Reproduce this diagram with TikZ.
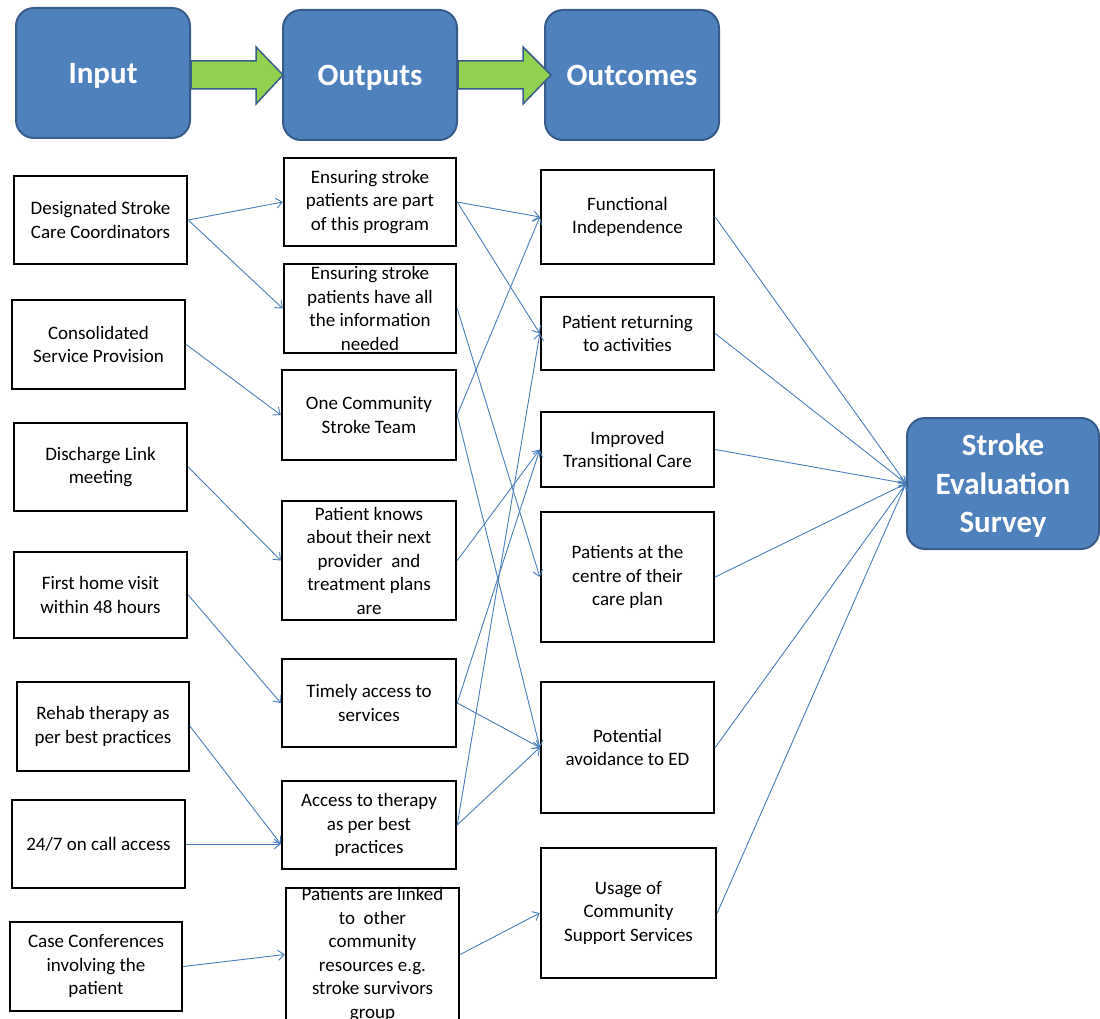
\documentclass[tikz,border=0pt]{standalone}
\usepackage{fontspec}
\setmainfont{Carlito}
\usetikzlibrary{arrows.meta}
\definecolor{hdrfill}{HTML}{4F81BD}
\definecolor{hdredge}{HTML}{385D8A}
\definecolor{grn}{HTML}{92D050}
\definecolor{linkc}{HTML}{4A7EBB}
\newcommand\mybox[6]{%
  \pgfmathsetmacro\mybw{#4-#2}\pgfmathsetmacro\mybh{#5-#3}%
  \pgfmathsetmacro\mycx{(#2+#4)/2}\pgfmathsetmacro\mycy{(#3+#5)/2}%
  \node[box, minimum width=\mybw pt, minimum height=\mybh pt] (#1) at (\mycx,\mycy) {};
  \node[txt] (#1-t) at (#1.center) {#6};}
\begin{document}
\begin{tikzpicture}[x=1pt,y=-1pt,
  hdr/.style={draw=hdredge, line width=2pt, fill=hdrfill, rounded corners=18pt, inner sep=0pt,
              text=white, font=\fontsize{31}{38.5}\selectfont\bfseries, align=center, text depth=0pt},
  box/.style={draw=black, line width=2.4pt, fill=white, inner sep=0pt},
  txt/.style={font=\fontsize{19}{23.5}\selectfont, align=center, inner sep=0pt, text=black},
  conn/.style={draw=linkc, line width=0.9pt, -{Straight Barb[length=6pt,width=10pt]}},
  garrow/.style={fill=grn, draw=hdredge, line width=1.5pt, line join=miter}
]
\useasboundingbox (0,0) rectangle (1100,1019);
\clip (0,0) rectangle (1100,1019);

% headers
\node[hdr, minimum width=174pt, minimum height=130pt] (hin) at (103,73) {Input};
\node[hdr, minimum width=174pt, minimum height=130pt] (hout) at (370,75) {Outputs};
\node[hdr, minimum width=174pt, minimum height=130pt] (hoc) at (632,75) {Outcomes};
\node[hdr, minimum width=192pt, minimum height=131pt] (survey) at (1003,483.5) {Stroke\\Evaluation\\Survey};

% green block arrows
\draw[garrow] (hin.east |- 0,61) -- (256,61) -- (256,47) -- (283,75) -- (256,104) -- (256,89) -- (hin.east |- 0,89) -- cycle;
\draw[garrow] (hout.east |- 0,61) -- (523,61) -- (523,47) -- (551,75) -- (523,104) -- (523,89) -- (hout.east |- 0,89) -- cycle;

% inputs
\mybox{i1}{14}{176}{187}{264}{Designated Stroke\\Care Coordinators}
\mybox{i2}{12}{300}{185}{389}{Consolidated\\Service Provision}
\mybox{i3}{14}{423}{187}{511}{Discharge Link\\meeting}
\mybox{i4}{14}{552}{187}{638}{First home visit\\within 48 hours}
\mybox{i5}{17}{682}{189}{771}{Rehab therapy as\\per best practices}
\mybox{i6}{12}{800}{185}{888}{24/7 on call access}
\mybox{i7}{10}{922}{182}{1011}{Case Conferences\\involving the\\patient}

% outputs
\mybox{o1}{284}{158}{456}{246}{Ensuring stroke\\patients are part\\of this program}
\mybox{o2}{284}{264}{456}{353}{Ensuring stroke\\patients have all\\the information\\needed}
\mybox{o3}{282}{370}{456}{460}{One Community\\Stroke Team}
\mybox{o4}{282}{501}{456}{620}{Patient knows\\about their next\\provider\ \ and\\treatment plans\\are}
\mybox{o5}{282}{659}{456}{747}{Timely access to\\services}
\mybox{o6}{282}{781}{456}{869}{Access to therapy\\as per best\\practices}
\mybox{o7}{286}{888}{459}{1021}{Patients are linked\\to\ \ other\\community\\resources e.g.\\stroke survivors\\group}

% outcomes
\mybox{f1}{541}{170}{714}{264}{Functional\\Independence}
\mybox{f2}{541}{297}{714}{370}{Patient returning\\to activities}
\mybox{f3}{541}{412}{714}{487}{Improved\\Transitional Care}
\mybox{f4}{541}{512}{714}{642}{Patients at the\\centre of their\\care plan}
\mybox{f5}{541}{682}{714}{813}{Potential\\avoidance to ED}
\mybox{f6}{541}{848}{716}{978}{Usage of\\Community\\Support Services}

% connectors inputs -> outputs
\draw[conn] (i1.east) -- (o1.west);
\draw[conn] (i1.east) -- (o2.west);
\draw[conn] (i2.east) -- (o3.west);
\draw[conn] (i3.east) -- (o4.west);
\draw[conn] (i4.east) -- (o5.west);
\draw[conn] (i5.east) -- (o6.west |- i6.east);
\draw[conn] (i6.east) -- (o6.west |- i6.east);
\draw[conn] (i7.east) -- (o7.west);

% outputs -> outcomes
\draw[conn] (o1.east) -- (f1.west);
\draw[conn] (o1.east) -- (f2.west);
\draw[conn] (o2.east) -- (f4.west);
\draw[conn] (o3.east) -- (f1.west);
\draw[conn] (o3.east) -- (f5.west);
\draw[conn] (o4.east) -- (f3.west);
\draw[conn] (o5.east) -- (f3.west);
\draw[conn] (o5.east) -- (f5.west);
\draw[conn] (o6.east) -- (f2.west);
\draw[conn] (o6.east) -- (f5.west);
\draw[conn] (o7.east) -- (f6.west);

% outcomes -> survey
\foreach \k in {f1,f2,f3,f4,f5,f6} \draw[conn] (\k.east) -- (survey.west);
\end{tikzpicture}
\end{document}
